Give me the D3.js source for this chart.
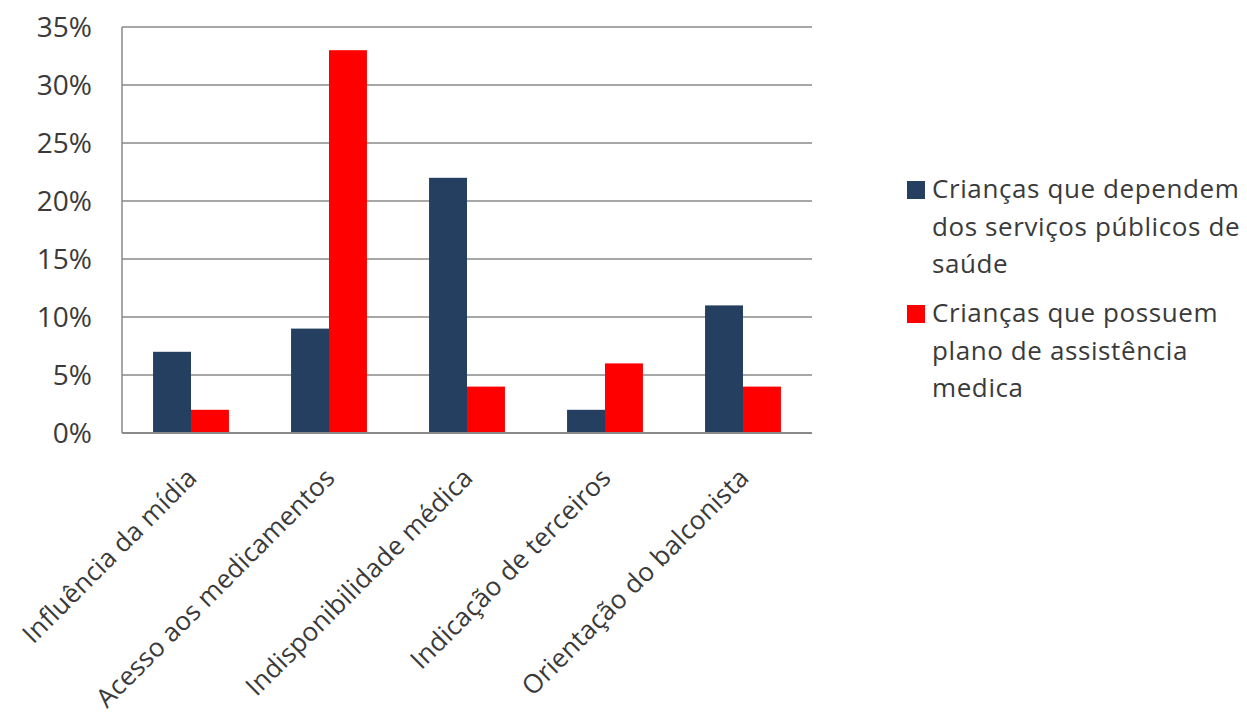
<!DOCTYPE html>
<html><head><meta charset="utf-8">
<script src="https://cdn.jsdelivr.net/npm/d3@7"></script>
<style>body{margin:0;background:#fff}svg{display:block}text{font-family:"Open Sans",sans-serif;fill:#3a3a3a}</style>
</head><body>
<script>
const categories = ["Influência da mídia","Acesso aos medicamentos","Indisponibilidade médica","Indicação de terceiros","Orientação do balconista"];
const seriesNames = [["Crianças que dependem","dos serviços públicos de","saúde"],["Crianças que possuem","plano de assistência","medica"]];
const publicos = [0.07,0.09,0.22,0.02,0.11];
const plano = [0.02,0.33,0.04,0.06,0.04];
const yTicks = [0,0.05,0.10,0.15,0.20,0.25,0.30,0.35];
const colors = ["#253F60","#FF0000"];

const W=1247,H=716;
const svg=d3.select("body").append("svg").attr("width",W).attr("height",H);
const m={l:122,r:812,t:27,b:433};
const x=d3.scaleBand().domain(categories).range([m.l,m.r]).paddingInner(0.45).paddingOuter(0.225);
const xs=d3.scaleBand().domain([0,1]).range([0,x.bandwidth()]);
const y=d3.scaleLinear().domain([0,0.35]).range([m.b,m.t]);

svg.append("g").selectAll("line").data(yTicks).join("line")
 .attr("x1",m.l).attr("x2",m.r).attr("y1",d=>y(d)).attr("y2",d=>y(d))
 .attr("stroke","#8a8a8a").attr("stroke-width",1.5);
svg.append("line").attr("x1",m.l).attr("x2",m.l).attr("y1",m.t).attr("y2",m.b).attr("stroke","#8a8a8a").attr("stroke-width",1.5);

const data=[publicos,plano];
data.forEach((s,i)=>{
 svg.append("g").selectAll("rect").data(s).join("rect")
  .attr("x",(d,j)=>x(categories[j])+xs(i)).attr("width",xs.bandwidth())
  .attr("y",d=>y(d)).attr("height",d=>y(0)-y(d)).attr("fill",colors[i]);
});
svg.append("line").attr("x1",m.l).attr("x2",m.r).attr("y1",m.b).attr("y2",m.b).attr("stroke","#8a8a8a").attr("stroke-width",2);

svg.append("g").selectAll("text").data(yTicks).join("text")
 .attr("x",92).attr("y",d=>y(d)).attr("dy","0.36em").attr("text-anchor","end")
 .attr("font-size",28).text(d=>Math.round(d*100)+"%");

svg.append("g").selectAll("text").data(categories).join("text")
 .attr("transform",d=>`translate(${x(d)+x.bandwidth()/2+1},${m.b+40}) rotate(-45)`)
 .attr("text-anchor","end").attr("dy","0.35em").attr("font-size",26).attr("letter-spacing",0.2).text(d=>d);

const lg=svg.append("g");
seriesNames.forEach((lines,i)=>{
 const b0=i===0?198:322;
 lg.append("rect").attr("x",907).attr("y",b0-17).attr("width",18).attr("height",18).attr("fill",colors[i]);
 lines.forEach((t,k)=>{
  lg.append("text").attr("x",932).attr("y",b0+k*37.5).attr("font-size",26).attr("letter-spacing",0.6).text(t);
 });
});
</script>
</body></html>
